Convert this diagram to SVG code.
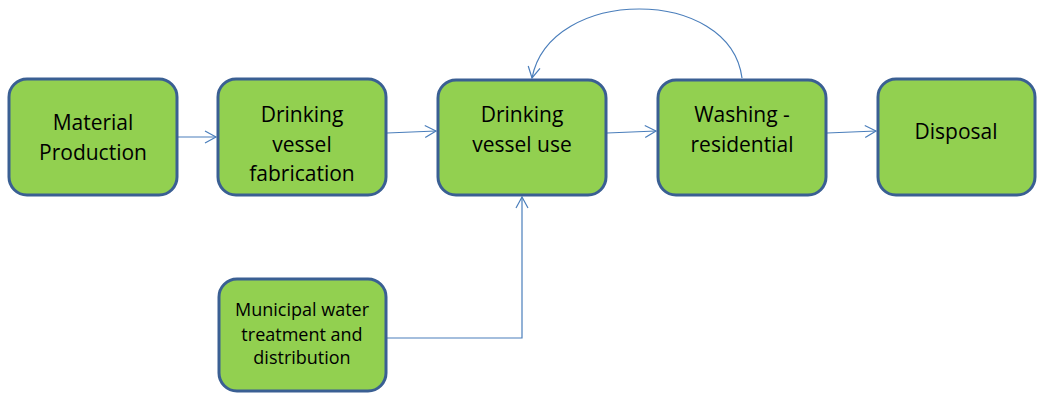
<svg xmlns="http://www.w3.org/2000/svg" width="1037" height="393" viewBox="0 0 1037 393">
<style>
.box{fill:#92D050;stroke:#3A5F93;stroke-width:3}
.t{font-family:"Open Sans","Liberation Sans",sans-serif;font-size:21px;fill:#000;text-anchor:middle}
.s{font-size:18px}
.c{fill:none;stroke:#4A7EBB;stroke-width:1.2}
</style>
<defs>
<marker id="a" markerWidth="14" markerHeight="14" refX="12" refY="7" orient="auto" markerUnits="userSpaceOnUse">
<path d="M1,1 L12,7 L1,13" fill="none" stroke="#4A7EBB" stroke-width="1.2"/>
</marker>
</defs>
<g id="connectors">
<path class="c" d="M177,137 L216,137" marker-end="url(#a)"/>
<path class="c" d="M387,133 L436,131" marker-end="url(#a)"/>
<path class="c" d="M607,133 L656,131" marker-end="url(#a)"/>
<path class="c" d="M827,133 L876,131" marker-end="url(#a)"/>
<path class="c" d="M742,78 C730,-14 550,-14 532,78" marker-end="url(#a)"/>
<path class="c" d="M387,338 L522,338 L522,197" marker-end="url(#a)"/>
</g>
<g id="n1"><rect class="box" x="9" y="79" width="168" height="116" rx="18"/>
<text class="t" x="93" y="130">Material</text><text class="t" x="93" y="160">Production</text></g>
<g id="n2"><rect class="box" x="218" y="79" width="168" height="116" rx="18"/>
<text class="t" x="302" y="122">Drinking</text><text class="t" x="302" y="152">vessel</text><text class="t" x="302" y="181">fabrication</text></g>
<g id="n3"><rect class="box" x="438" y="80" width="168" height="115" rx="18"/>
<text class="t" x="522" y="122">Drinking</text><text class="t" x="522" y="152">vessel use</text></g>
<g id="n4"><rect class="box" x="658" y="80" width="168" height="115" rx="18"/>
<text class="t" x="742" y="122">Washing -</text><text class="t" x="742" y="152">residential</text></g>
<g id="n5"><rect class="box" x="878" y="79" width="157" height="116" rx="18"/>
<text class="t" x="956" y="139">Disposal</text></g>
<g id="n6"><rect class="box" x="219" y="279" width="167" height="112" rx="18"/>
<text class="t s" x="302" y="316">Municipal water</text><text class="t s" x="302" y="341">treatment and</text><text class="t s" x="302" y="364">distribution</text></g>
</svg>
